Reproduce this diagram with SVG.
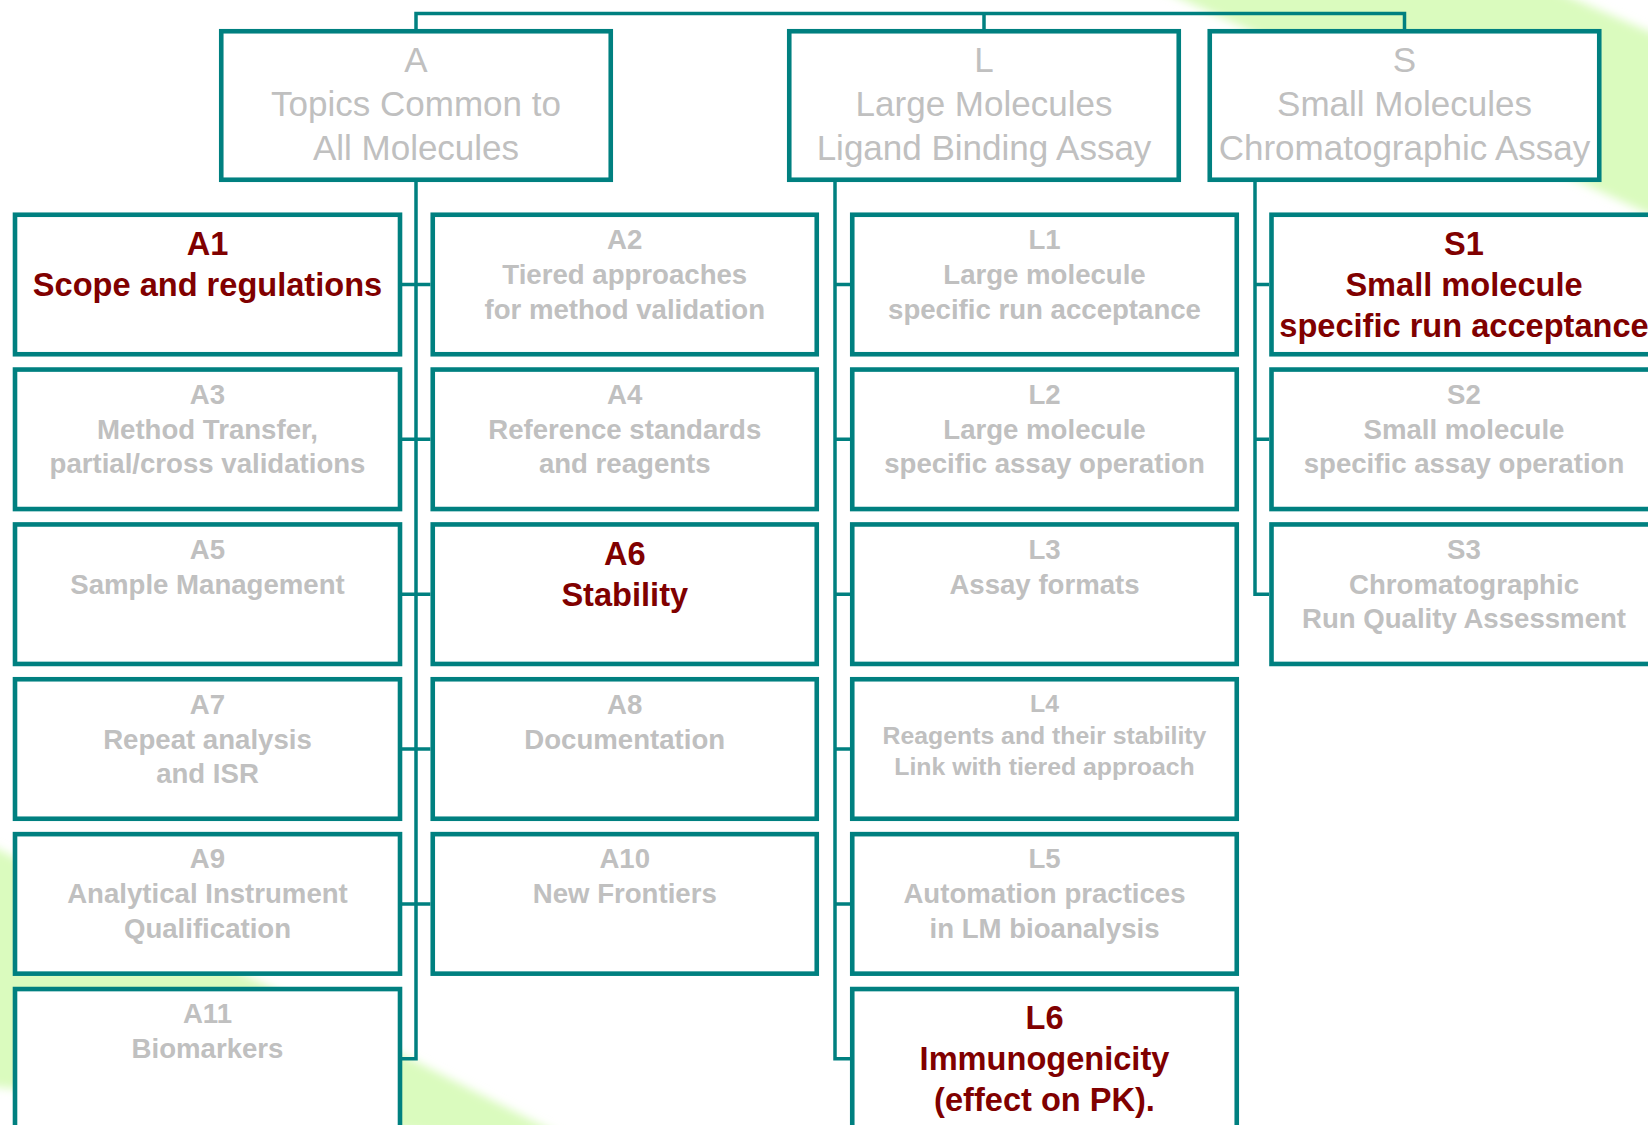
<svg xmlns="http://www.w3.org/2000/svg" width="1648" height="1125" viewBox="0 0 1648 1125">
<style>
.box{fill:#fff;stroke:#008080;stroke-width:4.6}
.con{fill:none;stroke:#008080;stroke-width:3.5}
text{font-family:"Liberation Sans",Arial,sans-serif;text-anchor:middle}
.h{font-size:35px;fill:#C0C0C0}
.g{font-size:27.6px;font-weight:bold;fill:#C0C0C0}
.gs{font-size:24.8px;font-weight:bold;fill:#C0C0C0}
.r{font-size:32.6px;font-weight:bold;fill:#800000}
</style>
<defs>
<filter id="soft" x="-20%" y="-20%" width="140%" height="140%"><feGaussianBlur stdDeviation="5"/></filter>
</defs>
<rect width="1648" height="1125" fill="#fff"/>
<g id="background" filter="url(#soft)" fill="#DAFBBE">
<polygon points="1140,-20 1530,-20 1680,45 1680,228"/>
<polygon points="-20,840 590,1150 -20,1085"/>
</g>
<g id="connectors" class="con">
<path d="M416,31 V13.5 H1404.5 V31 M984,13.5 V31"/>
<path d="M416,182 V1058.8 H402 M402,284.5 H430.5 M402,439.3 H430.5 M402,594.2 H430.5 M402,749 H430.5 M402,903.9 H430.5"/>
<path d="M835,182 V1058.8 H850 M835,284.5 H850 M835,439.3 H850 M835,594.2 H850 M835,749 H850 M835,903.9 H850"/>
<path d="M1255,182 V594.2 H1269 M1255,284.5 H1269 M1255,439.3 H1269"/>
</g>
<g id="A"><rect class="box" x="221.25" y="31.25" width="389.5" height="148.5"/>
<text class="h" x="416" y="72">A</text><text class="h" x="416" y="116">Topics Common to</text><text class="h" x="416" y="160">All Molecules</text></g>
<g id="L"><rect class="box" x="789.25" y="31.25" width="389.5" height="148.5"/>
<text class="h" x="984" y="72">L</text><text class="h" x="984" y="116">Large Molecules</text><text class="h" x="984" y="160">Ligand Binding Assay</text></g>
<g id="S"><rect class="box" x="1209.75" y="31.25" width="389.5" height="148.5"/>
<text class="h" x="1404.5" y="72">S</text><text class="h" x="1404.5" y="116">Small Molecules</text><text class="h" x="1404.5" y="160">Chromatographic Assay</text></g>

<g id="A1"><rect class="box" x="15" y="214.75" width="385" height="139.5"/>
<text class="r" x="207.5" y="255">A1</text><text class="r" x="207.5" y="296">Scope and regulations</text></g>
<g id="A2"><rect class="box" x="432.75" y="214.75" width="384" height="139.5"/>
<text class="g" x="624.75" y="249">A2</text><text class="g" x="624.75" y="284">Tiered approaches</text><text class="g" x="624.75" y="318.5">for method validation</text></g>
<g id="A3"><rect class="box" x="15" y="369.55" width="385" height="139.5"/>
<text class="g" x="207.5" y="403.8">A3</text><text class="g" x="207.5" y="438.8">Method Transfer,</text><text class="g" x="207.5" y="473.3">partial/cross validations</text></g>
<g id="A4"><rect class="box" x="432.75" y="369.55" width="384" height="139.5"/>
<text class="g" x="624.75" y="403.8">A4</text><text class="g" x="624.75" y="438.8">Reference standards</text><text class="g" x="624.75" y="473.3">and reagents</text></g>
<g id="A5"><rect class="box" x="15" y="524.45" width="385" height="139.5"/>
<text class="g" x="207.5" y="558.7">A5</text><text class="g" x="207.5" y="593.7">Sample Management</text></g>
<g id="A6"><rect class="box" x="432.75" y="524.45" width="384" height="139.5"/>
<text class="r" x="624.75" y="564.7">A6</text><text class="r" x="624.75" y="605.7">Stability</text></g>
<g id="A7"><rect class="box" x="15" y="679.25" width="385" height="139.5"/>
<text class="g" x="207.5" y="713.5">A7</text><text class="g" x="207.5" y="748.5">Repeat analysis</text><text class="g" x="207.5" y="783">and ISR</text></g>
<g id="A8"><rect class="box" x="432.75" y="679.25" width="384" height="139.5"/>
<text class="g" x="624.75" y="713.5">A8</text><text class="g" x="624.75" y="748.5">Documentation</text></g>
<g id="A9"><rect class="box" x="15" y="834.15" width="385" height="139.5"/>
<text class="g" x="207.5" y="868.4">A9</text><text class="g" x="207.5" y="903.4">Analytical Instrument</text><text class="g" x="207.5" y="937.9">Qualification</text></g>
<g id="A10"><rect class="box" x="432.75" y="834.15" width="384" height="139.5"/>
<text class="g" x="624.75" y="868.4">A10</text><text class="g" x="624.75" y="903.4">New Frontiers</text></g>
<g id="A11"><rect class="box" x="15" y="989.05" width="385" height="139.5"/>
<text class="g" x="207.5" y="1023.3">A11</text><text class="g" x="207.5" y="1058.3">Biomarkers</text></g>

<g id="L1"><rect class="box" x="852.25" y="214.75" width="384.5" height="139.5"/>
<text class="g" x="1044.5" y="249">L1</text><text class="g" x="1044.5" y="284">Large molecule</text><text class="g" x="1044.5" y="318.5">specific run acceptance</text></g>
<g id="L2"><rect class="box" x="852.25" y="369.55" width="384.5" height="139.5"/>
<text class="g" x="1044.5" y="403.8">L2</text><text class="g" x="1044.5" y="438.8">Large molecule</text><text class="g" x="1044.5" y="473.3">specific assay operation</text></g>
<g id="L3"><rect class="box" x="852.25" y="524.45" width="384.5" height="139.5"/>
<text class="g" x="1044.5" y="558.7">L3</text><text class="g" x="1044.5" y="593.7">Assay formats</text></g>
<g id="L4"><rect class="box" x="852.25" y="679.25" width="384.5" height="139.5"/>
<text class="gs" x="1044.5" y="712">L4</text><text class="gs" x="1044.5" y="743.5">Reagents and their stability</text><text class="gs" x="1044.5" y="775">Link with tiered approach</text></g>
<g id="L5"><rect class="box" x="852.25" y="834.15" width="384.5" height="139.5"/>
<text class="g" x="1044.5" y="868.4">L5</text><text class="g" x="1044.5" y="903.4">Automation practices</text><text class="g" x="1044.5" y="937.9">in LM bioanalysis</text></g>
<g id="L6"><rect class="box" x="852.25" y="989.05" width="384.5" height="139.5"/>
<text class="r" x="1044.5" y="1029.3">L6</text><text class="r" x="1044.5" y="1070.3">Immunogenicity</text><text class="r" x="1044.5" y="1111.3">(effect on PK).</text></g>

<g id="S1"><rect class="box" x="1271.5" y="214.75" width="385" height="139.5"/>
<text class="r" x="1464" y="255">S1</text><text class="r" x="1464" y="296">Small molecule</text><text class="r" x="1464" y="337">specific run acceptance</text></g>
<g id="S2"><rect class="box" x="1271.5" y="369.55" width="385" height="139.5"/>
<text class="g" x="1464" y="403.8">S2</text><text class="g" x="1464" y="438.8">Small molecule</text><text class="g" x="1464" y="473.3">specific assay operation</text></g>
<g id="S3"><rect class="box" x="1271.5" y="524.45" width="385" height="139.5"/>
<text class="g" x="1464" y="558.7">S3</text><text class="g" x="1464" y="593.7">Chromatographic</text><text class="g" x="1464" y="628.2">Run Quality Assessment</text></g>
</svg>
